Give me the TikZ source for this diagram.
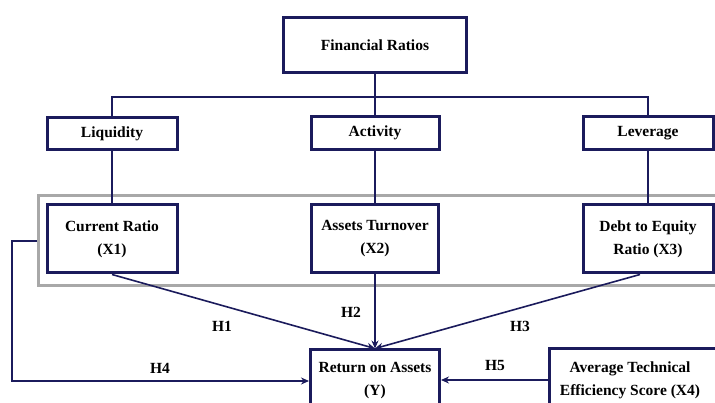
\documentclass[tikz,border=0pt]{standalone}
\usepackage{fontspec}
\setmainfont{Liberation Serif}
\usetikzlibrary{arrows.meta}
\definecolor{navy}{HTML}{1B1B5C}
\definecolor{grayframe}{HTML}{A8A8A8}
\begin{document}
\begin{tikzpicture}[x=1pt,y=-1pt,
 box/.style={draw=navy, line width=3pt, fill=white, align=center, inner sep=0pt,
   font=\bfseries\fontsize{15.5}{23}\selectfont},
 conn/.style={draw=navy, line width=1.6pt},
 arr/.style={conn, -{Stealth[length=8pt,width=7pt]}},
 lab/.style={font=\bfseries\fontsize{15.5}{18}\selectfont, text=black, inner sep=0pt},
 txt/.style={font=\bfseries\fontsize{15.5}{23}\selectfont, align=center, inner sep=0pt}]
\useasboundingbox (0,0) rectangle (715,403);
\clip (0,0) rectangle (715,403);
\fill[white] (0,0) rectangle (715,403);
% grey group frame
\node[draw=grayframe, line width=3pt, minimum width=702pt, minimum height=90pt, inner sep=0pt] (grp) at (389,241) {};
% boxes
\node[box, minimum width=183pt, minimum height=55pt] (fr) at (375,45.5) {Financial Ratios};
\node[box, minimum width=130pt, minimum height=32pt] (liq) at (112,134) {Liquidity};
\node[box, minimum width=128pt, minimum height=33pt] (act) at (375,133) {Activity};
\node[box, minimum width=130pt, minimum height=33pt] (lev) at (648,133) {Leverage};
\node[box, minimum width=130pt, minimum height=68pt] (cr) at (112,239) {Current Ratio\\(X1)};
\node[box, minimum width=127pt, minimum height=68pt] (at) at (375,239) {Assets Turnover\\(X2)};
\node[box, minimum width=130pt, minimum height=68pt] (de) at (648,239) {Debt to Equity\\Ratio (X3)};
\node[box, minimum width=129pt, minimum height=62pt] (roa) at (375,381) {};
\node[txt] at (375,381) {Return on Assets\\(Y)};
\node[box, minimum width=176pt, minimum height=62pt] (avg) at (637,380) {};
\node[txt] at (630,380) {Average Technical\\Efficiency Score (X4)};
% tree connectors
\coordinate (bar) at (375,97);
\draw[conn] (fr.south) -- (bar);
\draw[conn] (liq.north) -- (liq.north |- bar) -- (lev.north |- bar) -- (lev.north);
\draw[conn] (bar) -- (act.north);
\draw[conn] (liq.south) -- (cr.north);
\draw[conn] (act.south) -- (at.north);
\draw[conn] (lev.south) -- (de.north);
% hypotheses
\draw[arr] (cr.south) -- (roa.north);
\draw[arr] (at.south) -- (roa.north);
\draw[arr] ([xshift=-8pt]de.south) -- (roa.north);
\coordinate (h4c) at (12,241);
\draw[arr] (grp.west) -- (h4c) |- (roa.west);
\draw[arr] (avg.west) -- (avg.west -| roa.east);
\node[lab] (h1) at (222,326) {H1};
\node[lab] (h2) at (351,312) {H2};
\node[lab] (h3) at (520,326) {H3};
\node[lab] (h4) at (160,368) {H4};
\node[lab] (h5) at (495,366) {H5};
\end{tikzpicture}
\end{document}
